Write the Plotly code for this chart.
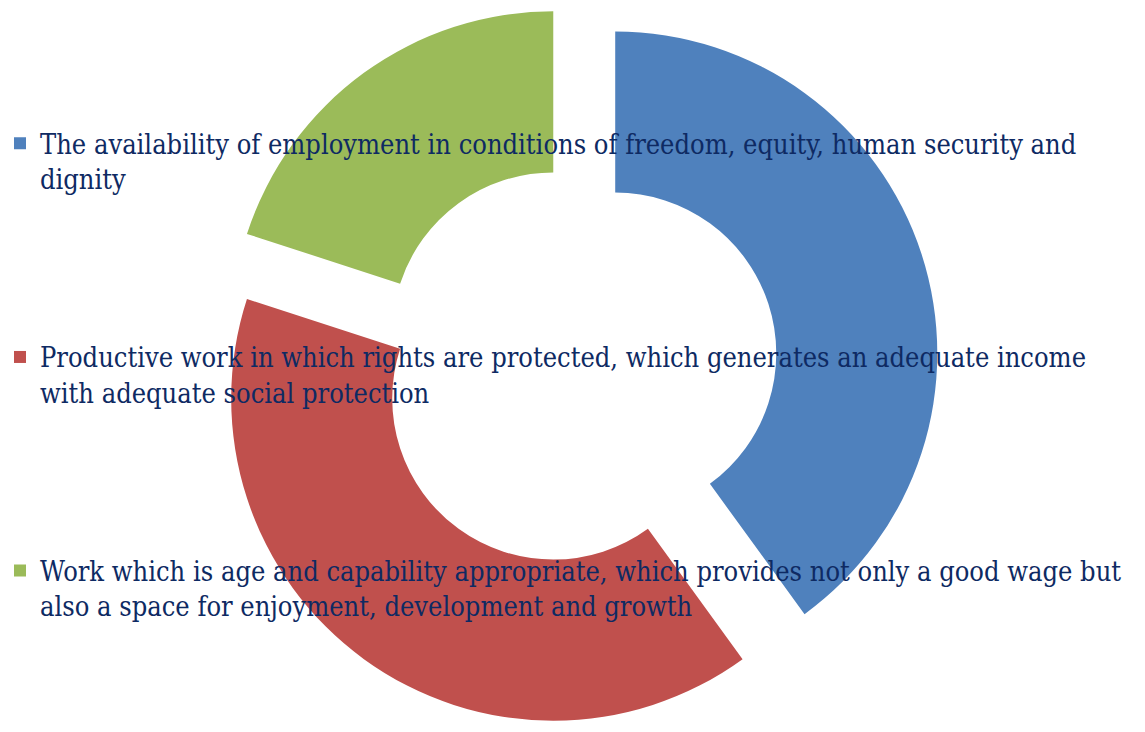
import plotly.graph_objects as go

labels = [
    "The availability of employment in conditions of freedom, equity, human security and<br>dignity",
    "Productive work in which rights are protected, which generates an adequate income<br>with adequate social protection",
    "Work which is age and capability appropriate, which provides not only a good wage but<br>also a space for enjoyment, development and growth",
]
values = [40, 40, 20]
colors = ["#4F81BD", "#C0504D", "#9BBB59"]

pad = "<br>\u00a0" * 4
legend_labels = [labels[0] + pad, labels[1] + pad, labels[2]]

fig = go.Figure(
    go.Pie(
        labels=legend_labels,
        values=values,
        marker=dict(colors=colors, line=dict(width=0)),
        hole=0.5,
        pull=[0.125, 0.125, 0.125],
        sort=False,
        direction="clockwise",
        rotation=0,
        textinfo="none",
        domain=dict(x=[0.006, 1], y=[0.005, 0.995]),
    )
)

fig.update_layout(
    width=1145,
    height=732,
    margin=dict(l=0, r=0, t=0, b=0),
    paper_bgcolor="white",
    plot_bgcolor="white",
    showlegend=True,
    legend=dict(
        x=-0.002,
        y=0.837,
        xanchor="left",
        yanchor="top",
        bgcolor="rgba(0,0,0,0)",
        font=dict(family="DejaVu Serif Condensed, DejaVu Serif", size=27, color="#0E2A63"),
        valign="top",
        tracegroupgap=0,
    ),
)

fig.write_html("out.html")
